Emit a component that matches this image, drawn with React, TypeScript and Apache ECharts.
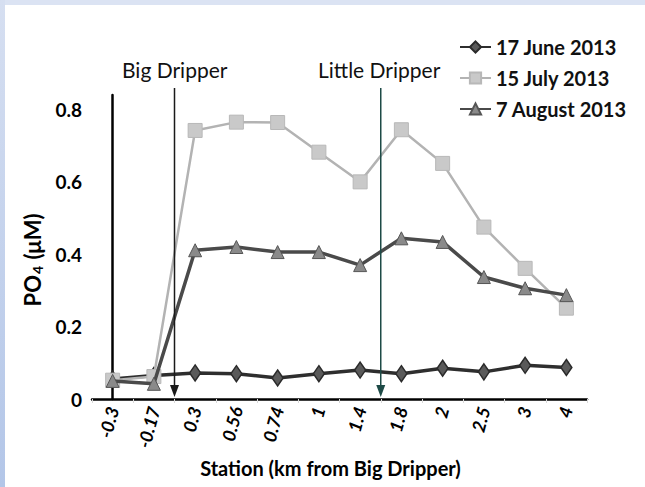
import React, { useEffect, useRef } from "react";
import * as echarts from "echarts";

// Stations along the transect (km from Big Dripper)
const stations = ["-0.3", "-0.17", "0.3", "0.56", "0.74", "1", "1.4", "1.8", "2", "2.5", "3", "4"];

// PO4 concentrations (µM) per sampling date
const june17 = [0.055, 0.065, 0.072, 0.07, 0.058, 0.07, 0.08, 0.07, 0.085, 0.075, 0.093, 0.087];
const july15 = [0.052, 0.062, 0.742, 0.765, 0.764, 0.682, 0.6, 0.744, 0.651, 0.475, 0.361, 0.251];
const aug7 = [0.05, 0.042, 0.411, 0.42, 0.406, 0.406, 0.37, 0.444, 0.434, 0.337, 0.306, 0.287];

// Spring locations, as positions between station slots
const springNames = ["Big Dripper", "Little Dripper"];
const springPositions = [1.5, 6.5];
const springColors = ["#1a1a1a", "#1d4a46"];

const FONT = "Lato, 'Open Sans', sans-serif";

export default function App() {
  const ref = useRef<HTMLDivElement>(null);

  useEffect(() => {
    if (!ref.current) return;
    const chart = echarts.init(ref.current, undefined, { renderer: "svg" });

    const option: any = {
      animation: false,
      backgroundColor: "#ffffff",
      textStyle: { fontFamily: FONT },
      grid: { left: 92, right: 58, top: 95, bottom: 88 },
      legend: {
        orient: "vertical",
        left: 454,
        top: 32,
        itemWidth: 31,
        itemHeight: 14,
        itemGap: 11,
        textStyle: { fontSize: 20, fontWeight: "bold", color: "#111", fontFamily: FONT },
        data: ["17 June 2013", "15 July 2013", "7 August 2013"],
      },
      xAxis: [
        {
          type: "category",
          data: stations,
          boundaryGap: true,
          axisLine: { lineStyle: { color: "#000", width: 2.5 } },
          axisTick: { show: true, length: 4, lineStyle: { color: "#d8d8d8" } },
          axisLabel: {
            rotate: 75,
            fontSize: 18,
            fontWeight: "bold",
            fontStyle: "italic",
            color: "#000",
            margin: 8,
            fontFamily: FONT,
          },
          name: "Station (km from Big Dripper)",
          nameLocation: "middle",
          nameGap: 53,
          nameTextStyle: {
            fontSize: 20,
            fontWeight: "bold",
            color: "#000",
            fontFamily: FONT,
            padding: [0, 18, 0, 0],
          },
        },
        {
          type: "value",
          min: -0.5,
          max: 11.5,
          show: false,
        },
      ],
      yAxis: {
        type: "value",
        min: 0,
        max: 0.84,
        interval: 0.2,
        splitLine: { show: false },
        axisLine: { show: true, lineStyle: { color: "#000", width: 2.5 } },
        axisTick: { show: false },
        axisLabel: {
          showMaxLabel: false,
          fontSize: 19,
          fontWeight: "bold",
          color: "#000",
          margin: 10,
          fontFamily: FONT,
        },
        name: "{a|PO}{s|4}{a| (μM)}",
        nameLocation: "middle",
        nameGap: 45,
        nameTextStyle: {
          padding: [0, 26, 0, 0],
          rich: {
            a: { fontSize: 22, fontWeight: "bold", color: "#000", fontFamily: FONT },
            s: { fontSize: 14, fontWeight: "bold", color: "#000", fontFamily: FONT, padding: [10, 1, 0, 1] },
          },
        },
      },
      series: [
        {
          name: "17 June 2013",
          type: "line",
          data: june17,
          symbol: "diamond",
          symbolSize: [11, 16],
          lineStyle: { color: "#2e2e2e", width: 3.5 },
          itemStyle: { color: "#5a5a5a", borderColor: "#2a2a2a", borderWidth: 1.5 },
          z: 3,
        },
        {
          name: "15 July 2013",
          type: "line",
          data: july15,
          symbol: "rect",
          symbolSize: 14,
          lineStyle: { color: "#b3b3b3", width: 2.5 },
          itemStyle: { color: "#c9c9c9", borderColor: "#b8b8b8", borderWidth: 1 },
          z: 4,
        },
        {
          name: "7 August 2013",
          type: "line",
          data: aug7,
          symbol: "triangle",
          symbolSize: [13, 13],
          lineStyle: { color: "#4a4a4a", width: 3.5 },
          itemStyle: { color: "#8a8a8a", borderColor: "#555", borderWidth: 1 },
          z: 5,
        },
        {
          // Downward arrows marking the two spring inputs
          name: "springs",
          type: "custom",
          xAxisIndex: 1,
          silent: true,
          z: 6,
          data: springPositions.map((p, i) => [p, i]),
          renderItem: (params: any, api: any) => {
            const x = api.coord([api.value(0), 0])[0];
            const bottom = api.coord([api.value(0), 0])[1] - 2;
            const top = params.coordSys.y - 7;
            const color = springColors[api.value(1)];
            return {
              type: "group",
              children: [
                {
                  type: "line",
                  shape: { x1: x, y1: top, x2: x, y2: bottom - 8 },
                  style: { stroke: color, lineWidth: 1.5 },
                },
                {
                  type: "polygon",
                  shape: { points: [[x - 4.5, bottom - 12], [x + 4.5, bottom - 12], [x, bottom]] },
                  style: { fill: color },
                },
              ],
            };
          },
        },
      ],
      graphic: [
        {
          type: "rect",
          shape: { x: 0, y: 0, width: 645, height: 5 },
          style: { fill: "#dbe3f3" },
          silent: true,
        },
        {
          type: "rect",
          shape: { x: 0, y: 0, width: 5, height: 487 },
          style: {
            fill: new echarts.graphic.LinearGradient(0, 0, 0, 1, [
              { offset: 0, color: "#d6dff1" },
              { offset: 1, color: "#b3c6e8" },
            ]),
          },
          silent: true,
        },
        {
          type: "text",
          left: 122,
          top: 59,
          style: { text: springNames[0], fontSize: 21, fill: "#111", fontFamily: FONT },
        },
        {
          type: "text",
          left: 318,
          top: 59,
          style: { text: springNames[1], fontSize: 21, fill: "#111", fontFamily: FONT },
        },
      ],
    };

    chart.setOption(option);
    return () => chart.dispose();
  }, []);

  return (
    <div
      ref={ref}
      style={{ position: "absolute", left: 0, top: 0, width: 645, height: 487 }}
    />
  );
}
